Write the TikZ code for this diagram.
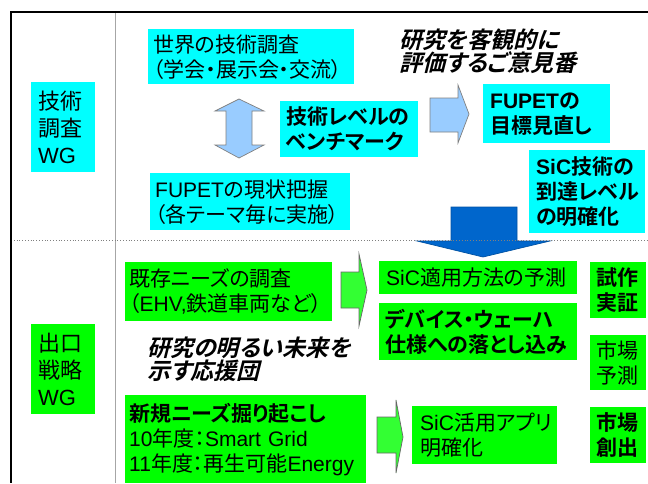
\documentclass[tikz,border=0pt]{standalone}
\usepackage{fontspec}
\newfontfamily\jp[BoldFont={Noto Sans CJK JP Bold},RawFeature=+palt]{Noto Sans CJK JP}
\newfontfamily\jpit[FakeSlant=0.25,RawFeature=+palt]{Noto Sans CJK JP Bold}
\newfontfamily\latnfont{Liberation Sans}
\newcommand\latn[1]{{\latnfont #1}}
\definecolor{cy}{HTML}{00FFFF}
\definecolor{gr}{HTML}{00FF00}
\definecolor{lb}{HTML}{99CCFF}
\definecolor{db}{HTML}{0066CC}
\definecolor{ga}{HTML}{33FF33}
\tikzset{
  cbox/.style={anchor=north west, fill=cy, inner ysep=0pt, align=left},
  gbox/.style={anchor=north west, fill=gr, inner ysep=0pt, align=left},
  txt/.style={font=\jp\fontsize{21}{25}\selectfont},
  txtb/.style={font=\jp\bfseries\fontsize{21}{25}\selectfont},
  wgtxt/.style={font=\jp\fontsize{22}{27}\selectfont},
  ittxt/.style={font=\jpit\fontsize{23}{23}\selectfont, align=left, anchor=west, inner sep=0pt},
  lbarrow/.style={fill=lb, draw=gray, line width=0.7pt, line join=miter},
  garrow/.style={fill=ga, draw=gray!80!black, line width=0.7pt, line join=miter},
  dbarrow/.style={fill=db, draw=db!80!black, line width=0.7pt, line join=miter}
}
\begin{document}
\begin{tikzpicture}[x=1pt, y=-1pt]
\useasboundingbox (0,0) rectangle (648,483);
% upper section
\node[cbox, wgtxt, inner xsep=7pt, text width=50pt, minimum height=90pt] (wgA) at (31,82) {技術\\調査\\\latn{WG}};
\node[cbox, txt, inner xsep=5pt, text width=196pt, minimum height=55pt] (world) at (148,29) {世界の技術調査\\（学会・展示会・交流）};
\node[cbox, txtb, inner xsep=6pt, text width=126pt, minimum height=56pt] (bench) at (280,101) {技術レベルの\\ベンチマーク};
\node[cbox, txt, inner xsep=5pt, text width=190pt, minimum height=57pt] (now) at (150,173) {\latn{FUPET}の現状把握\\（各テーマ毎に実施）};
\node[cbox, txtb, inner xsep=7pt, text width=113pt, minimum height=59pt] (target) at (483,84) {\latn{FUPET}の\\目標見直し};
\node[cbox, txtb, inner xsep=7pt, text width=102pt, minimum height=83pt] (sic) at (529,150) {\latn{SiC}技術の\\到達レベル\\の明確化};
\node[ittxt] (it1) at (399,51.5) {研究を客観的に\\評価するご意見番};
% lower section
\node[gbox, wgtxt, inner xsep=7pt, text width=50pt, minimum height=90pt] (wgB) at (31,324) {出口\\戦略\\\latn{WG}};
\node[gbox, txt, inner xsep=4pt, text width=199pt, minimum height=59pt] (exist) at (125,262) {既存ニーズの調査\\（\latn{EHV,}鉄道車両など）};
\node[gbox, txt, inner xsep=4pt, text width=233pt, minimum height=88pt] (new) at (125,395) {{\bfseries 新規ニーズ掘り起こし}\\\latn{10}年度：\latn{Smart Grid}\\\latn{11}年度：再生可能\latn{Energy}};
\node[ittxt] (it2) at (147,359) {研究の明るい未来を\\示す応援団};
\node[gbox, txt, inner xsep=7pt, text width=184pt, minimum height=33pt] (predict) at (379,261) {\latn{SiC}適用方法の予測};
\node[gbox, txtb, inner xsep=6pt, text width=186pt, minimum height=57pt] (device) at (379,303) {デバイス・ウェーハ\\仕様への落とし込み};
\node[gbox, txt, inner xsep=8pt, text width=129pt, minimum height=58pt] (apps) at (412,406) {\latn{SiC}活用アプリ\\明確化};
\node[gbox, txtb, inner xsep=6pt, text width=44pt, minimum height=56pt] (proto) at (590,262) {試作\\実証};
\node[gbox, txt, inner xsep=6pt, text width=44pt, minimum height=55pt] (mpred) at (590,335) {市場\\予測};
\node[gbox, txtb, inner xsep=6pt, text width=44pt, minimum height=56pt] (mcreate) at (590,407) {市場\\創出};
% block arrows
\draw[lbarrow] (239,99) -- (264,111) -- (252,111) -- (252,145) -- (264,145) -- (239,158) -- (215,145) -- (226,145) -- (226,111) -- (215,111) -- cycle;
\draw[lbarrow] (430,98) -- (458,98) -- (458,85) -- (469,114) -- (458,143) -- (458,132) -- (430,132) -- cycle;
\draw[garrow] (341,272) -- (359,272) -- (359,254) -- (367,290) -- (359,326) -- (359,308) -- (341,308) -- cycle;
\draw[garrow] (377,417) -- (396,417) -- (396,400) -- (403,437) -- (396,473) -- (396,453) -- (377,453) -- cycle;
\draw[dbarrow] (451,207) -- (517,207) -- (517,241) -- (550,241) -- (483,257) -- (417,241) -- (451,241) -- cycle;
% frame
\draw[gray!70, line width=1pt] (115,12) -- (115,483);
\draw[gray, dotted, line width=0.8pt] (11,240) -- (648,240);
\draw[line width=2pt, line join=miter] (648,12) -- (11,12) -- (11,483);
\end{tikzpicture}
\end{document}
